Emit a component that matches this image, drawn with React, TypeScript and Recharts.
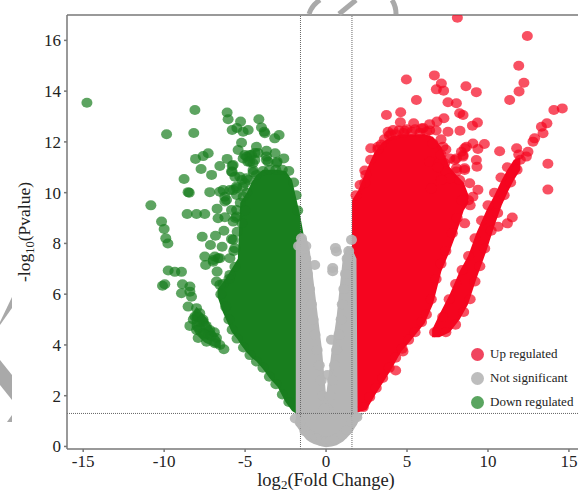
import React from 'react';
import {
  ComposedChart,
  Area,
  Scatter,
  XAxis,
  YAxis,
  ReferenceLine,
} from 'recharts';

type Pt = [number, number];

const xTicks = [-15, -10, -5, 0, 5, 10, 15];
const yTicks = [0, 2, 4, 6, 8, 10, 12, 14, 16];
const legendItems = [
  { name: 'Up regulated', color: '#f0455f' },
  { name: 'Not significant', color: '#bdbdbd' },
  { name: 'Down regulated', color: '#5aa560' },
];

// the saturated middle of each cloud, read as x, low, high
const downCore = [
  [-6.7, 5.9, 6.2], [-6.38, 5.3, 6.45], [-5.82, 4.5, 7.0], [-5.45, 4.2, 7.4], [-5.3, 4.05, 9.6],
  [-4.9, 3.7, 10.0], [-4.6, 3.5, 10.4], [-4.3, 3.35, 10.7], [-3.9, 3.05, 10.9], [-3.5, 2.7, 10.9],
  [-3.0, 2.35, 10.9], [-2.5, 1.75, 10.85], [-2.1, 1.4, 10.5], [-1.85, 1.3, 9.8], [-1.6, 1.3, 9.1],
  [-1.4, 1.3, 8.4],
];
const downTailCore = [
  [-8.3, 4.7, 5.2], [-8.0, 4.4, 5.5], [-7.5, 4.1, 5.15], [-7.0, 3.95, 4.65], [-6.5, 3.85, 4.2],
];
const upCore = [
  [1.6, 1.3, 9.7], [2.0, 1.35, 10.1], [2.5, 1.45, 10.9], [3.0, 2.0, 11.6], [3.5, 2.5, 12.0],
  [4.0, 3.0, 12.2], [4.65, 3.75, 12.3], [5.0, 4.0, 12.3], [5.58, 4.45, 12.3], [6.09, 4.85, 12.3],
  [6.6, 5.6, 12.2], [7.12, 6.9, 11.8], [7.64, 7.7, 11.0], [8.05, 8.4, 10.7], [8.5, 9.3, 10.4],
  [8.8, 9.6, 9.9],
];
const upBandCore = [
  [6.55, 4.3, 4.6], [7.0, 4.3, 5.2], [7.64, 4.5, 6.0], [8.25, 5.0, 6.9], [8.77, 5.6, 7.5],
  [9.28, 6.6, 8.4], [9.9, 7.7, 9.3], [10.4, 8.7, 9.9], [10.85, 9.5, 10.5], [11.2, 10.0, 10.9],
  [11.6, 10.5, 11.3], [12.0, 10.9, 11.4],
];
const flatCore = [
  [-1.87, 0.85, 8.0], [-1.5, 0.5, 8.4], [-1.2, 0.26, 8.2], [-1.0, 0.18, 7.7], [-0.75, 0.1, 6.4],
  [-0.5, 0.05, 5.1], [-0.25, 0, 3.8], [0, -0.03, 2.0], [0.35, 0, 3.8], [0.65, 0.05, 5.1],
  [1.05, 0.2, 7.5], [1.3, 0.35, 7.9], [1.6, 0.55, 7.8], [1.88, 0.85, 7.4], [1.95, 0.92, 1.33],
  [2.28, 1.28, 1.32],
];

const downPoints: Pt[] = [
  [-14.77, 13.54], [-8.1, 13.26], [-9.85, 12.3], [-8.17, 12.35], [-6.11, 13.16], [-6.05, 12.89],
  [-5.28, 12.8], [-5.8, 12.47], [-5.51, 12.55], [-5.12, 12.4], [-4.81, 12.47], [-4.15, 12.89],
  [-3.99, 12.57], [-3.78, 12.34], [-3.82, 12.4], [-2.9, 12.27], [-3.17, 12.14], [-5.22, 11.97],
  [-4.3, 11.81], [-5.43, 11.68], [-3.68, 11.65], [-3.15, 11.55], [-2.61, 11.35], [-7.28, 11.55],
  [-7.59, 11.44], [-8.06, 11.33], [-6.11, 11.33], [-6.56, 11.05], [-5.8, 11.06], [-7.72, 10.93],
  [-7.07, 10.7], [-8.77, 10.54], [-5.8, 10.82], [-4.91, 11.42], [-4.6, 11.48], [-4.2, 11.56],
  [-4.83, 11.22], [-4.52, 11.16], [-3.68, 11.29], [-3.06, 11.17], [-8.52, 10.02], [-8.45, 10.0],
  [-7.18, 10.02], [-6.56, 10.04], [-5.94, 10.1], [-5.53, 10.24], [-6.15, 9.71], [-10.82, 9.5],
  [-8.58, 9.16], [-8.0, 9.16], [-7.49, 9.16], [-6.73, 9.37], [-6.67, 8.99], [-6.25, 9.03],
  [-5.53, 9.32], [-5.49, 8.46], [-6.31, 8.5], [-6.83, 8.3], [-7.65, 8.26], [-10.16, 8.86],
  [-10.0, 8.57], [-9.9, 8.2], [-9.77, 8.0], [-7.14, 7.94], [-6.42, 7.87], [-5.74, 8.14],
  [-9.75, 6.93], [-9.34, 6.88], [-8.93, 6.88], [-10.1, 6.33], [-9.96, 6.39], [-8.87, 6.39],
  [-8.93, 6.04], [-8.41, 6.3], [-8.41, 6.1], [-8.31, 5.9], [-8.52, 5.51], [-8.0, 5.45],
  [-7.8, 5.25], [-8.1, 5.12], [-7.59, 4.92], [-8.41, 4.75], [-7.8, 4.66], [-7.18, 4.59],
  [-7.9, 4.27], [-7.38, 4.13], [-6.77, 4.27], [-6.87, 4.07], [-6.31, 3.83], [-6.56, 4.0],
  [-7.28, 4.4], [-7.59, 4.47], [-7.8, 4.9], [-8.0, 4.59], [-7.49, 7.48], [-7.44, 7.15],
  [-6.97, 7.35], [-6.67, 7.42], [-6.73, 6.89], [-6.77, 6.5], [-6.37, 6.4], [-5.94, 7.42],
  [-5.6, 9.0], [-5.2, 8.8], [-5.3, 9.6], [-5.0, 9.3], [-4.9, 10.0], [-4.8, 10.5], [-4.5, 10.8],
  [-5.2, 10.5], [-5.7, 7.7], [-6.0, 6.6],
  // the clumps above and left of the solid part
  [-5.02, 11.48], [-4.71, 11.48], [-4.4, 11.56], [-5.12, 11.35], [-4.71, 11.22], [-4.4, 11.29],
  [-3.58, 11.22], [-3.68, 11.42], [-3.02, 11.22], [-4.51, 10.89], [-5.74, 11.09], [-5.84, 10.83],
  [-5.63, 10.63], [-5.33, 10.63], [-4.91, 10.57], [-5.02, 10.37], [-5.14, 10.22], [-5.53, 10.17],
  [-5.74, 10.1], [-6.36, 10.1], [-6.25, 9.84], [-5.53, 9.91], [-5.12, 9.84], [-6.25, 9.65],
  [-5.84, 9.32], [-5.53, 9.06], [-5.74, 8.86], [-5.84, 8.17], [-5.63, 7.81], [-6.87, 7.48],
  [-6.56, 7.42], [-6.97, 7.28], [-5.63, 7.08], [-5.94, 6.76], [-6.56, 6.37],
  // the lower left tail
  [-8.2, 5.0], [-7.9, 5.1], [-7.6, 5.0], [-7.4, 4.75], [-7.1, 4.35], [-6.9, 4.5], [-7.5, 4.4],
  // lower edge of the cloud
  [-2.3, 1.75], [-2.7, 2.05], [-3.1, 2.45], [-3.5, 2.75], [-3.9, 3.1], [-4.3, 3.35], [-4.7, 3.6],
  [-5.1, 3.9], [-5.5, 4.25], [-5.8, 4.6], [-6.0, 5.0], [-6.2, 5.5], [-6.5, 6.0],
  // upper edge of the cloud
  [-4.3, 10.7], [-3.9, 10.85], [-3.5, 10.9], [-3.1, 10.9], [-2.7, 10.9], [-2.3, 10.85],
  [-2.0, 10.4], [-1.85, 9.9], [-1.75, 9.3],
];

const upPoints: Pt[] = [
  [8.11, 16.89], [12.43, 16.17], [11.9, 15.0], [12.22, 14.33], [11.92, 13.99], [11.34, 13.65],
  [4.96, 14.46], [6.69, 14.62], [7.12, 14.3], [6.81, 14.07], [7.26, 14.02], [8.64, 14.19],
  [9.28, 13.96], [5.58, 13.65], [7.53, 13.56], [8.05, 13.52], [3.73, 13.06], [4.61, 13.17],
  [4.59, 12.77], [5.41, 12.73], [7.28, 12.93], [8.25, 13.13], [8.46, 13.06], [9.35, 12.76],
  [9.04, 12.64], [8.27, 12.44], [7.53, 12.4], [14.07, 13.26], [14.59, 13.32], [13.64, 12.73],
  [13.3, 12.6], [13.4, 12.34], [12.88, 12.14], [12.78, 12.01], [12.47, 11.61], [12.37, 11.42],
  [13.7, 11.14], [13.7, 10.12], [11.77, 11.75], [10.72, 11.63], [9.78, 11.92], [9.38, 11.72],
  [9.07, 11.94], [8.67, 11.81], [8.46, 11.48], [9.28, 11.29], [9.32, 11.02], [8.87, 10.37],
  [9.38, 10.11], [9.07, 9.84], [11.5, 9.02], [11.2, 8.79], [10.62, 8.66], [8.56, 8.79],
  [7.22, 11.81], [7.94, 11.29], [7.43, 10.76], [8.05, 10.96], [8.56, 10.89], [4.3, 2.99],
  [4.75, 3.74], [2.39, 10.87], [2.39, 10.38], [2.76, 11.75], [3.21, 11.81], [3.83, 12.4],
  // the loose part right of the solid cloud
  [6.4, 12.7], [6.85, 12.8], [5.89, 12.53], [4.14, 12.47], [4.86, 12.44], [6.6, 11.94],
  [8.36, 11.61], [8.56, 11.75], [7.64, 11.35], [8.05, 11.35], [8.46, 11.42], [7.33, 11.16],
  [7.43, 10.83], [8.05, 10.83], [8.56, 10.96], [7.64, 10.57], [7.12, 10.5], [8.25, 10.5],
  [6.4, 11.22], [6.51, 10.17], [7.0, 11.2], [7.1, 11.5], [6.9, 11.0], [8.8, 9.7], [8.9, 9.5],
  // lower edge of the cloud
  [2.3, 1.55], [2.7, 1.95], [3.1, 2.3], [3.5, 2.7], [3.9, 3.1], [4.3, 3.5], [4.7, 3.85], [5.1, 4.2],
  [5.5, 4.5], [5.9, 4.9], [6.2, 5.2], [6.5, 5.8], [6.8, 6.6], [7.1, 7.2], [7.4, 7.7], [7.8, 8.4],
  [8.1, 9.0], [8.4, 9.7],
  // upper edge of the cloud
  [1.85, 9.9], [2.1, 10.3], [2.45, 10.7], [2.75, 11.3], [3.2, 11.7], [3.6, 12.1], [4.0, 12.3],
  [4.5, 12.45], [5.0, 12.5], [5.5, 12.5], [6.0, 12.55], [6.4, 12.45], [6.8, 12.45], [7.1, 12.1],
  [7.4, 11.7], [3.4, 11.9], [3.9, 12.25], [4.3, 12.3], [4.8, 12.35], [5.3, 12.4], [5.8, 12.35],
  [6.2, 12.4],
  // the diagonal band
  [7.4, 4.5], [8.0, 4.8], [8.5, 5.3], [8.9, 5.8], [9.2, 6.5], [9.5, 7.1], [9.8, 7.8], [10.2, 8.5],
  [10.6, 9.2], [11.0, 9.9], [11.4, 10.4], [11.8, 10.9], [12.0, 11.3], [11.9, 11.5],
  [6.7, 4.5], [7.2, 5.1], [7.6, 5.8], [8.0, 6.4], [8.4, 6.95], [8.8, 7.5], [9.2, 8.2], [9.6, 8.9],
  [10.0, 9.5], [10.4, 10.0], [10.8, 10.6], [11.2, 11.0],
];

const flatPoints: Pt[] = [
  [-1.52, 8.2], [-1.42, 7.68], [-0.7, 7.15], [0.41, 7.03], [0.41, 6.9], [0.64, 7.68], [0.58, 7.82],
  [1.57, 8.14], [1.4, 7.7], [-1.7, 7.9], [-1.25, 7.9], [0.09, 2.82], [0.33, 4.2],
  [-1.25, 7.4], [-1.15, 6.8], [-1.02, 6.2], [-0.9, 5.6], [-0.8, 5.0], [-0.68, 4.4], [-0.55, 3.8],
  [-0.42, 3.2], [-0.3, 2.6], [-0.2, 2.0],
  [1.3, 7.4], [1.2, 6.8], [1.1, 6.2], [1.0, 5.6], [0.93, 5.0], [0.8, 4.4], [0.65, 3.8], [0.52, 3.2],
  [0.4, 2.6], [0.25, 2.0], [0.1, 1.5], [-0.1, 1.5],
  [-1.6, 0.95], [-1.3, 0.6], [-1.0, 0.45], [-0.6, 0.3], [-0.3, 0.22], [0, 0.2], [0.3, 0.22],
  [0.6, 0.3], [1.0, 0.45], [1.3, 0.65], [1.6, 0.95], [1.9, 1.15], [-1.9, 1.1],
];

const toPoints = (rows: Pt[]) => rows.map(([x, y]) => ({ x, y }));
const toBand = (rows: number[][]) => rows.map(([x, lo, hi]) => ({ x, range: [lo, hi] }));

const serif = '"Liberation Serif", serif';

const Dot = (props: any) => (
  <ellipse cx={props.cx} cy={props.cy} rx={5.5} ry={5} fill={props.fill} fillOpacity={props.fillOpacity} />
);

const XTitle = () => (
  <text x={326} y={486} textAnchor="middle" fontFamily={serif} fontSize={18.5} fill="#222">
    log<tspan fontSize={13} dy={3}>2</tspan>
    <tspan dy={-3}>(Fold Change)</tspan>
  </text>
);

const YTitle = () => (
  <text transform="translate(30,232) rotate(-90)" textAnchor="middle" fontFamily={serif} fontSize={17.5} fill="#222">
    -log<tspan fontSize={12.5} dy={4}>10</tspan>
    <tspan dy={-4}>(Pvalue)</tspan>
  </text>
);

const LegendBox = () => (
  <div style={{ position: 'absolute', left: 471, top: 342, width: 110, fontFamily: serif, fontSize: 13, color: '#222' }}>
    {legendItems.map((it) => (
      <div key={it.name} style={{ display: 'flex', alignItems: 'center', height: 24, whiteSpace: 'nowrap' }}>
        <span style={{ width: 13, height: 13, borderRadius: 7, background: it.color, marginRight: 6, flex: 'none' }} />
        {it.name}
      </div>
    ))}
  </div>
);

const Watermark = () => (
  <svg width={578} height={491} style={{ position: 'absolute', left: 0, top: 0, pointerEvents: 'none' }}>
    <g fill="none" stroke="#a9a9a9" strokeWidth={5}>
      <path d="M309 14 Q312 5 320 0" />
      <path d="M339 14 L356 0" />
      <path d="M396 14 Q396 6 392 0" />
    </g>
    <g fill="#a9a9a9">
      <polygon points="12,297 12,308 0,325 0,322" />
      <polygon points="0,360 12,375 12,400 0,385" />
      <polygon points="12,415 12,422 7,422" />
    </g>
  </svg>
);

export default function App() {
  return (
    <div style={{ position: 'absolute', left: 0, top: 0, width: 578, height: 491, overflow: 'hidden' }}>
      <ComposedChart width={578} height={491} margin={{ top: 15, right: 0, bottom: 0, left: 0 }}>
        <XAxis
          dataKey="x"
          type="number"
          domain={[-16, 15.56]}
          ticks={xTicks}
          height={42}
          tickSize={3}
          tickMargin={3}
          interval={0}
          allowDataOverflow
          stroke="#777"
          strokeWidth={1.5}
          tick={{ fontFamily: serif, fontSize: 17, fill: '#222' }}
        />
        <YAxis
          type="number"
          domain={[-0.1, 17]}
          ticks={yTicks}
          width={67}
          tickSize={3}
          tickMargin={3}
          interval={0}
          allowDataOverflow
          stroke="#777"
          strokeWidth={1.5}
          tick={{ fontFamily: serif, fontSize: 17, fill: '#222' }}
        />
        <ReferenceLine y={17} stroke="#777" strokeWidth={1.5} />
        <ReferenceLine x={-1.58} stroke="#666" strokeDasharray="1 1" />
        <ReferenceLine x={1.6} stroke="#666" strokeDasharray="1 1" />
        <ReferenceLine y={1.3} stroke="#666" strokeDasharray="1 1" />

        <Area data={toBand(downCore)} dataKey="range" stroke="none" fill="#187e1e" fillOpacity={1} legendType="none" isAnimationActive={false} />
        <Area data={toBand(downTailCore)} dataKey="range" stroke="none" fill="#187e1e" fillOpacity={0.85} legendType="none" isAnimationActive={false} />
        <Area data={toBand(upCore)} dataKey="range" stroke="none" fill="#f5051f" fillOpacity={1} legendType="none" isAnimationActive={false} />
        <Area data={toBand(upBandCore)} dataKey="range" stroke="none" fill="#f5051f" fillOpacity={1} legendType="none" isAnimationActive={false} />
        <Scatter data={toPoints(downPoints)} dataKey="y" name="Down regulated" fill="#187e1e" fillOpacity={0.7} shape={Dot} isAnimationActive={false} />
        <Scatter data={toPoints(upPoints)} dataKey="y" name="Up regulated" fill="#f5051f" fillOpacity={0.7} shape={Dot} isAnimationActive={false} />
        <Area data={toBand(flatCore)} dataKey="range" stroke="none" fill="#b5b5b5" fillOpacity={1} legendType="none" isAnimationActive={false} />
        <Scatter data={toPoints(flatPoints)} dataKey="y" name="Not significant" fill="#b5b5b5" fillOpacity={0.9} shape={Dot} isAnimationActive={false} />

        <XTitle />
        <YTitle />
      </ComposedChart>
      <LegendBox />
      <Watermark />
    </div>
  );
}
